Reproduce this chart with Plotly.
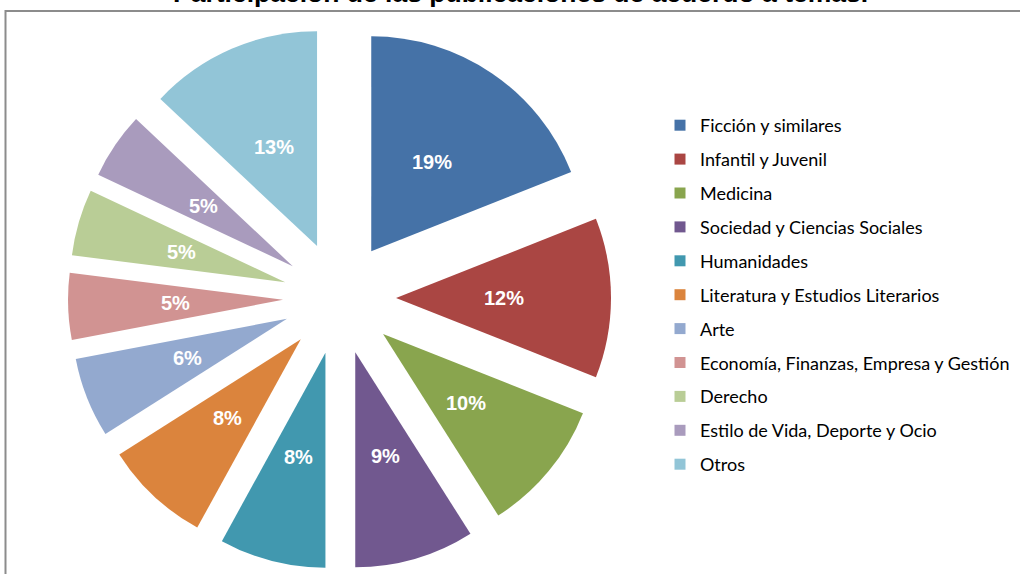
import math
import plotly.graph_objects as go

categories = [
    "Ficción y similares",
    "Infantil y Juvenil",
    "Medicina",
    "Sociedad y Ciencias Sociales",
    "Humanidades",
    "Literatura y Estudios Literarios",
    "Arte",
    "Economía, Finanzas, Empresa y Gestión",
    "Derecho",
    "Estilo de Vida, Deporte y Ocio",
    "Otros",
]
shares = [19, 12, 10, 9, 8, 8, 6, 5, 5, 5, 13]
colors = [
    "#4572A7", "#AA4643", "#89A54E", "#71588F", "#4198AF", "#DB843D",
    "#93A9CF", "#D19392", "#B9CD96", "#A99BBD", "#92C5D7",
]
title_text = "Participación de las publicaciones de acuerdo a temas."

W, H = 1020, 574
PULL = 0.263
DOM_X = [68 / W, 611 / W]
DOM_Y = [4.5 / H, 547.5 / H]
LABEL_FRAC = 0.5  # label distance from the pulled slice tip, as a fraction of radius

fig = go.Figure()
fig.add_trace(go.Pie(
    labels=categories,
    values=shares,
    sort=False,
    direction="clockwise",
    rotation=0,
    pull=[PULL] * len(shares),
    marker=dict(colors=colors, line=dict(width=0)),
    textinfo="none",
    showlegend=False,
    domain=dict(x=DOM_X, y=DOM_Y),
    hoverinfo="label+percent",
))

# percentage labels, placed along each slice's mid angle (same geometry plotly uses)
box_w = (DOM_X[1] - DOM_X[0]) * W
box_h = (DOM_Y[1] - DOM_Y[0]) * H
radius = min(box_w, box_h) / (2 * (1 + PULL))
cx_px = (DOM_X[0] + DOM_X[1]) / 2 * W
cy_px = (DOM_Y[0] + DOM_Y[1]) / 2 * H  # from bottom
total = sum(shares)
cum = 0
for v in shares:
    mid = (cum + v / 2) / total * 2 * math.pi
    cum += v
    dist = radius * (PULL + LABEL_FRAC)
    x_px = cx_px + dist * math.sin(mid)
    y_px = cy_px + dist * math.cos(mid)
    fig.add_annotation(
        text=f"{v / total * 100:.0f}%", xref="paper", yref="paper",
        x=x_px / W, y=y_px / H, xanchor="center", yanchor="middle", showarrow=False,
        font=dict(family="Liberation Sans, Arial", size=20, color="white", weight="bold"),
    )

# legend entries
for i, (c, col) in enumerate(zip(categories, colors)):
    fig.add_trace(go.Scatter(
        x=[None], y=[None], mode="markers", name=c,
        marker=dict(symbol="square", size=11, color=col, line=dict(width=0)),
        legendgroup=f"g{i}", showlegend=True, hoverinfo="skip",
    ))

fig.add_annotation(
    text=title_text, xref="paper", yref="paper", x=520 / W, y=1.0,
    xanchor="center", yanchor="middle", yshift=7, showarrow=False,
    font=dict(family="Liberation Sans, Arial", size=26.5, color="black", weight="bold"),
)

fig.add_shape(
    type="rect", xref="paper", yref="paper",
    x0=5.5 / W, x1=1.02, y0=-0.02, y1=(H - 11) / H,
    line=dict(color="#8C8C8C", width=2), fillcolor="rgba(0,0,0,0)", layer="below",
)

fig.update_layout(
    width=W, height=H,
    margin=dict(l=0, r=0, t=0, b=0),
    paper_bgcolor="white", plot_bgcolor="white",
    xaxis=dict(visible=False), yaxis=dict(visible=False),
    legend=dict(
        x=660 / W, y=(H - 107) / H, xanchor="left", yanchor="top",
        font=dict(family="Lato", size=18, color="black"),
        tracegroupgap=7.5, bgcolor="rgba(0,0,0,0)",
    ),
    showlegend=True,
)

fig.write_html("out.html")
